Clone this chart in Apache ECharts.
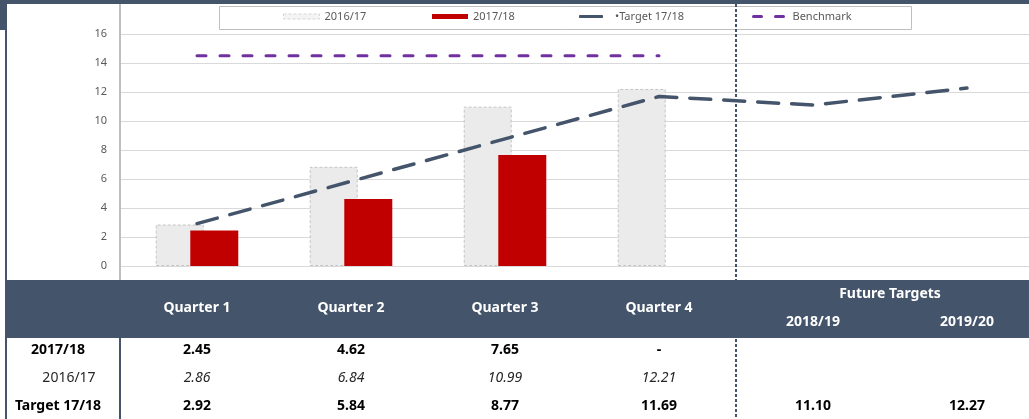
<!DOCTYPE html>
<html lang="en">
<head>
    <meta charset="UTF-8">
    <title>Quarterly Targets</title>
    <script type="text/javascript" src="https://cdn.jsdelivr.net/npm/echarts@6/dist/echarts.min.js"></script>
    <style>
        html, body { margin: 0; padding: 0; background: #fff; overflow: hidden; }
        /* plot area runs a little past the right edge of the window, as in the original */
        #main { width: 1044px; height: 419px; }
    </style>
</head>
<body>
<div id="main"></div>
<script type="text/javascript">
    var categories = ['Quarter 1', 'Quarter 2', 'Quarter 3', 'Quarter 4', '2018/19', '2019/20'];
    var prevYear = [2.86, 6.84, 10.99, 12.21];           // 2016/17
    var currYear = [2.45, 4.62, 7.65, null];             // 2017/18
    var target = [2.92, 5.84, 8.77, 11.69, 11.10, 12.27]; // Target 17/18
    var benchmark = [14.5, 14.5, 14.5, 14.5];
    var yMin = 0, yMax = 16, yStep = 2;
    var quarterCount = 4;

    var dark = '#44546a';
    var font = '"Noto Sans", "Open Sans", sans-serif';

    var mychart = echarts.init(document.getElementById('main'));

    function legendItem(name, left, w, h, icon, gap, iconStyle) {
        var item = {name: name, icon: icon};
        if (iconStyle) item.itemStyle = iconStyle;
        return {
            data: [item], left: left, top: 11, itemWidth: w, itemHeight: h, padding: 0,
            textStyle: {color: '#595959', fontSize: 11, fontFamily: font, padding: [0, 0, 0, gap || 0]},
            formatter: function (n) { return n === 'Target 17/18' ? '\u2022Target 17/18' : n; }
        };
    }

    var option = {
        animation: false,
        grid: {left: 120, right: 0, top: 34, height: 232},
        legend: [
            legendItem('2016/17', 283, 36, 5, 'rect', 0,
                {color: '#f4f4f4', borderColor: '#d4d4d4', borderWidth: 1, borderType: [3, 2]}),
            legendItem('2017/18', 432, 36, 5, 'rect'),
            legendItem('Target 17/18', 579, 24, 3, 'roundRect', 7),
            legendItem('Benchmark', 752, 34, 3,
                'path://M1.5,0h8a1.5,1.5 0 0 1 0,3h-8a1.5,1.5 0 0 1 0,-3z M23.5,0h8a1.5,1.5 0 0 1 0,3h-8a1.5,1.5 0 0 1 0,-3z', 2)
        ],
        xAxis: {
            type: 'category',
            data: categories,
            axisLine: {show: false},
            axisTick: {show: false},
            axisLabel: {show: false}
        },
        yAxis: {
            type: 'value',
            min: yMin, max: yMax, interval: yStep,
            axisLine: {show: false},
            axisTick: {show: false},
            axisLabel: {color: '#595959', fontSize: 11, fontFamily: font, margin: 13},
            splitLine: {lineStyle: {color: '#d9d9d9', width: 1}}
        },
        series: [
            {
                name: '2016/17', type: 'bar', data: prevYear, barWidth: 48, barGap: '-28%',
                itemStyle: {color: '#ebebeb', borderColor: '#c4c4c4', borderWidth: 1, borderType: [3, 2]}
            },
            {
                name: '2017/18', type: 'bar', data: currYear, barWidth: 48,
                itemStyle: {color: '#c00000'}
            },
            {
                name: 'Target 17/18', type: 'line', data: target, symbol: 'none', z: 4,
                itemStyle: {color: dark},
                lineStyle: {color: dark, width: 3.5, type: [21, 13], cap: 'round'}
            },
            {
                name: 'Benchmark', type: 'line', data: benchmark, symbol: 'none', z: 4,
                itemStyle: {color: '#7030a0'},
                lineStyle: {color: '#7030a0', width: 3, type: [9, 14], cap: 'round'}
            }
        ]
    };
    mychart.setOption(option);

    // frame, separators and the data table under the plot
    function fmt(v) { return v == null ? '' : v.toFixed(2); }

    function txt(x, y, s, style) {
        return {
            type: 'text', x: x, y: y, z: 10,
            style: Object.assign({
                text: s, align: 'center', verticalAlign: 'middle',
                fontFamily: font, fontSize: 14, fontWeight: 'bold', fill: '#000'
            }, style || {})
        };
    }

    function buildFrame() {
        var xs = categories.map(function (c, i) {
            return mychart.convertToPixel({xAxisIndex: 0}, i);
        });
        var sepX = Math.round((xs[quarterCount - 1] + xs[quarterCount]) / 2);
        var g = [
            {type: 'rect', shape: {x: 0, y: 0, width: 1044, height: 4}, style: {fill: dark}},
            {type: 'rect', shape: {x: 0, y: 0, width: 7, height: 30}, style: {fill: dark}},
            {type: 'rect', shape: {x: 5, y: 0, width: 2, height: 419}, style: {fill: dark}},
            {type: 'rect', shape: {x: 219.5, y: 6.5, width: 692, height: 23},
                style: {fill: '#fff', stroke: '#bfbfbf', lineWidth: 1}},
            {type: 'line', shape: {x1: 120, y1: 4, x2: 120, y2: 280}, style: {stroke: '#bfbfbf', lineWidth: 2}},
            {type: 'line', shape: {x1: sepX, y1: 4, x2: sepX, y2: 419}, z: 5,
                style: {stroke: dark, lineWidth: 2, lineDash: [3, 2]}},
            {type: 'rect', shape: {x: 5, y: 280, width: 1039, height: 58}, z: 6, style: {fill: dark}},
            {type: 'line', shape: {x1: 120, y1: 338, x2: 120, y2: 419}, z: 6, style: {stroke: dark, lineWidth: 2}}
        ];
        var white = {fill: '#fff'};
        for (var i = 0; i < categories.length; i++) {
            if (i < quarterCount) {
                g.push(txt(xs[i], 308, categories[i], white));
            } else {
                g.push(txt(xs[i], 322, categories[i], white));
            }
        }
        g.push(txt((xs[quarterCount] + xs[categories.length - 1]) / 2, 294, 'Future Targets', white));

        g.push(txt(58, 350, '2017/18'));
        g.push(txt(69, 378, '2016/17', {fontWeight: 'normal', fill: '#262626'}));
        g.push(txt(58, 406, 'Target 17/18'));
        for (var j = 0; j < categories.length; j++) {
            if (j < quarterCount) {
                g.push(txt(xs[j], 350, currYear[j] == null ? '-' : fmt(currYear[j])));
                g.push(txt(xs[j], 378, fmt(prevYear[j]),
                    {fontWeight: 'normal', fontStyle: 'italic', fill: '#262626'}));
            }
            g.push(txt(xs[j], 406, fmt(target[j])));
        }
        mychart.setOption({graphic: g});
    }
    buildFrame();
</script>
</body>
</html>
